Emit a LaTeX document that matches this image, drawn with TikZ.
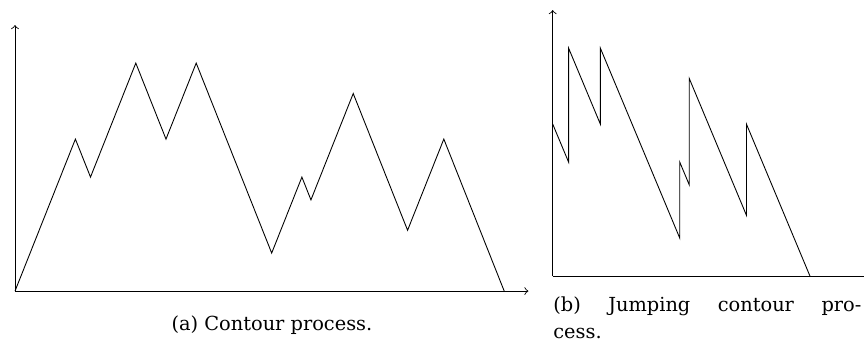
\documentclass[tikz,border=0pt]{standalone}
\usepackage{fontspec}
\setmainfont{DejaVu Serif}
\tikzset{
  axis/.style={->},
  contour/.style={line join=miter},
  caption/.style={inner sep=0pt,font=\fontsize{8.8}{12.3}\selectfont}
}
\begin{document}
\begin{tikzpicture}[x=1pt,y=1pt,>=to]
\useasboundingbox (-6.82,-23.6) rectangle (385.9,132.3);

% (a) contour process
\begin{scope}[x=6.863pt,y=17.27pt]
\draw[axis] (0,0) -- (0,7);
\draw[axis] (0,0) -- (34,0);
\draw[contour] (0,0) -- (4,4) -- (5,3) -- (8,6) -- (10,4) -- (12,6) -- (17,1)
  -- (19,3) -- (19.6,2.4) -- (22.4,5.2) -- (26,1.6) -- (28.4,4) -- (32.4,0);
\end{scope}
\node[caption,anchor=base] (capa) at (116.8,-17.7) {(a) Contour process.};

% (b) jumping contour process
\begin{scope}[shift={(244.4,6.82)},x=7.218pt,y=17.27pt]
\draw[axis] (0,0) -- (0,7);
\draw[axis] (0,0) -- (20,0);
\draw[contour] (0,4) -- (1,3) -- (1,6) -- (3,4) -- (3,6) -- (8,1) -- (8,3)
  -- (8.6,2.4) -- (8.6,5.2) -- (12.2,1.6) -- (12.2,4) -- (16.2,0);
\end{scope}
\node[caption,anchor=base west,text width=140pt,align=justify] (capb) at (244.5,-9.1)
  {(b) Jumping contour pro-\linebreak cess.};
\end{tikzpicture}
\end{document}
